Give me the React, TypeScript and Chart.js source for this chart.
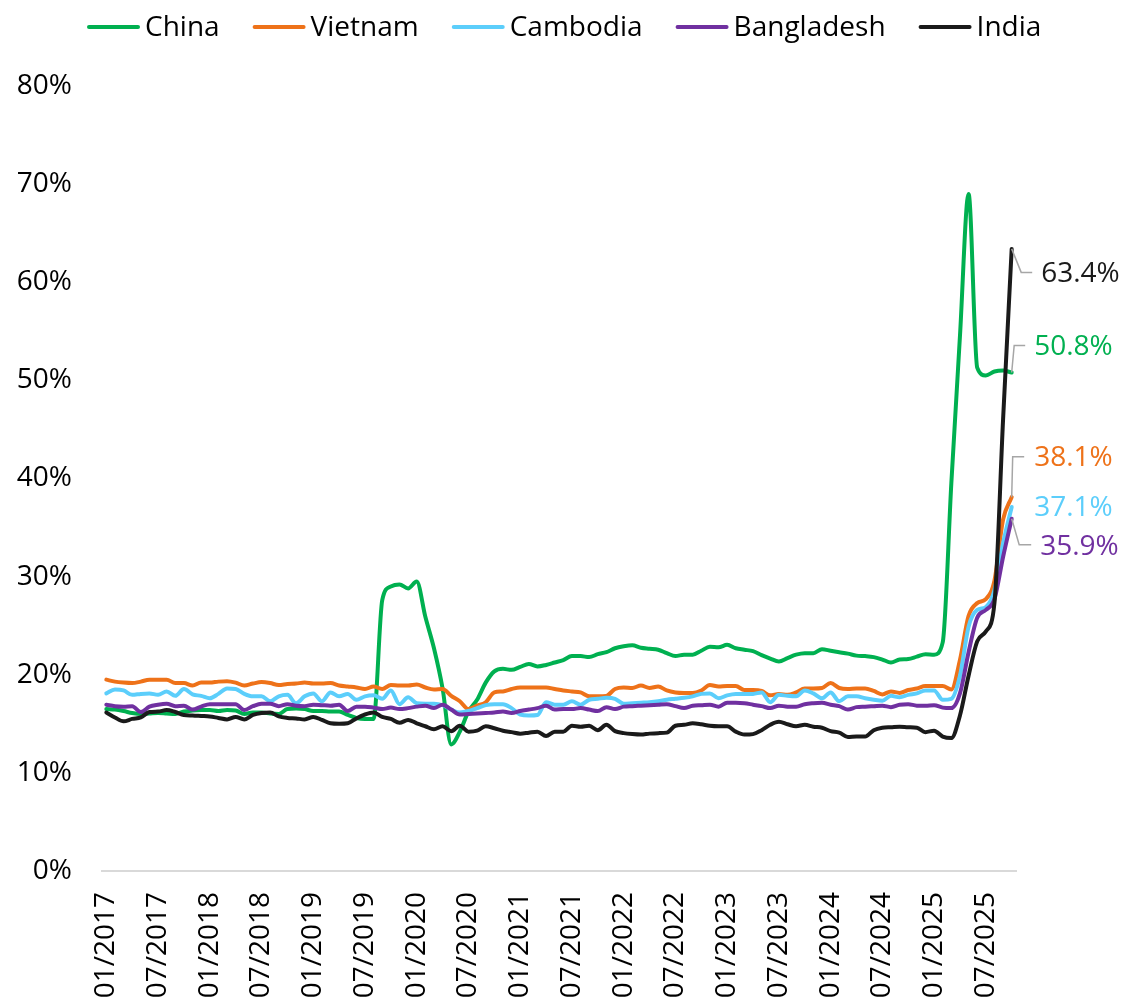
import { useEffect, useRef } from "react";
import { Chart, registerables } from "chart.js";

Chart.register(...registerables);

// Monthly categories: 01/2017 .. 10/2025
const firstYear = 2017;
const monthCount = 106;
const monthLabels: string[] = [];
for (let k = 0; k < monthCount; k++) {
  const m = (k % 12) + 1;
  const y = firstYear + Math.floor(k / 12);
  monthLabels.push(`${m < 10 ? "0" : ""}${m}/${y}`);
}
const labelEvery = 6;

const seriesNames = ["China", "Vietnam", "Cambodia", "Bangladesh", "India"];

// Share of imports (%), monthly
const china = [
  16.5, 16.45, 16.3, 16.1, 16.0, 16.05, 16.1, 16.05, 16.0, 16.25, 16.35, 16.4,
  16.4, 16.3, 16.4, 16.35, 16.0, 16.15, 16.15, 16.05, 16.0, 16.5, 16.55, 16.5,
  16.3, 16.3, 16.25, 16.25, 15.9, 15.6, 15.5, 15.5, 27.6, 29.0, 29.2,
  28.8, 29.5, 25.9, 22.7, 18.6, 12.9, 14.2, 16.25, 17.45, 19.2, 20.35, 20.6,
  20.5, 20.8, 21.1, 20.85, 21.0, 21.25, 21.5, 21.9, 21.9, 21.8, 22.1, 22.3,
  22.7, 22.9, 23.0, 22.75, 22.65, 22.55, 22.2, 21.9,
  22.05, 22.05, 22.45, 22.85, 22.8, 23.05, 22.7, 22.55, 22.4, 22.0, 21.65, 21.35,
  21.7, 22.05, 22.2, 22.2, 22.6, 22.45, 22.3, 22.15, 21.95, 21.9, 21.8, 21.55,
  21.25, 21.55, 21.6, 21.85, 22.1, 22.05, 23.3, 39.5,
  54.5, 69.0, 51.3, 50.5, 50.9, 51.0, 50.8,
];

const vietnam = [
  19.5, 19.3, 19.2, 19.15, 19.3, 19.5, 19.5, 19.5, 19.15, 19.15, 18.9, 19.2,
  19.2, 19.3, 19.35, 19.2, 18.9, 19.1, 19.25, 19.15, 18.95, 19.05, 19.1, 19.2,
  19.1, 19.1, 19.15, 18.9, 18.8, 18.7, 18.55, 18.8, 18.55, 18.95, 18.9,
  18.9, 19.0, 18.7, 18.5, 18.55, 17.85, 17.3, 16.5, 16.85, 17.2, 18.2, 18.3,
  18.55, 18.7, 18.7, 18.7, 18.7, 18.55, 18.4, 18.3, 18.2, 17.8, 17.8, 17.85,
  18.55, 18.7, 18.65, 18.9, 18.65, 18.8, 18.4, 18.2,
  18.15, 18.15, 18.4, 18.95, 18.8, 18.85, 18.85, 18.45, 18.45, 18.35, 17.9, 18.05,
  17.95, 18.2, 18.6, 18.6, 18.65, 19.15, 18.65, 18.55, 18.6, 18.6, 18.35, 18.0,
  18.3, 18.15, 18.45, 18.6, 18.85, 18.85, 18.85, 18.5,
  21.5, 26.0, 27.3, 27.7, 29.6, 35.8, 38.1,
];

const cambodia = [
  18.1, 18.5, 18.4, 17.95, 18.05, 18.1, 17.95, 18.3, 17.85, 18.55, 18.0, 17.85,
  17.6, 18.05, 18.6, 18.55, 18.05, 17.8, 17.8, 17.3, 17.8, 17.95, 17.1, 17.8,
  18.1, 17.3, 18.2, 17.8, 18.05, 17.45, 17.8, 17.9, 17.55, 18.4, 17.0,
  17.7, 17.1, 17.05, 17.05, 16.9, 16.45, 16.15, 16.3, 16.6, 16.9, 17.0, 17.0,
  16.6, 15.95, 15.85, 15.9, 17.2, 16.95, 16.95, 17.3, 16.95, 17.45, 17.55, 17.65,
  17.55, 17.05, 17.1, 17.15, 17.2, 17.3, 17.45, 17.55,
  17.65, 17.8, 18.05, 18.1, 17.6, 17.9, 18.05, 18.05, 18.05, 18.2, 17.2, 17.95,
  17.85, 17.8, 18.4, 18.1, 17.6, 18.2, 17.3, 17.8, 17.8, 17.6, 17.45, 17.35,
  17.85, 17.7, 17.95, 18.1, 18.4, 18.4, 17.45, 17.55,
  19.9, 24.9, 26.6, 26.9, 28.6, 33.4, 37.1,
];

const bangladesh = [
  16.95, 16.8, 16.75, 16.8, 16.2, 16.75, 16.95, 17.05, 16.8, 16.85, 16.45, 16.75,
  17.0, 17.0, 17.0, 17.0, 16.4, 16.8, 17.05, 17.05, 16.8, 17.0, 16.85, 16.8,
  16.95, 16.9, 16.85, 16.95, 16.3, 16.75, 16.75, 16.65, 16.5, 16.65, 16.5,
  16.6, 16.75, 16.85, 16.6, 16.95, 16.45, 15.95, 16.0, 16.05, 16.1, 16.15, 16.25,
  16.1, 16.3, 16.45, 16.6, 16.85, 16.45, 16.5, 16.5, 16.6, 16.45, 16.3, 16.7,
  16.5, 16.75, 16.8, 16.85, 16.9, 16.95, 17.0, 16.8,
  16.6, 16.85, 16.9, 16.95, 16.75, 17.15, 17.15, 17.1, 16.95, 16.8, 16.6, 16.85,
  16.75, 16.75, 17.0, 17.1, 17.15, 16.95, 16.8, 16.45, 16.7, 16.75, 16.8, 16.85,
  16.7, 16.95, 17.0, 16.85, 16.85, 16.9, 16.65, 16.6,
  18.1, 22.3, 25.8, 26.6, 27.7, 32.0, 35.9,
];

const india = [
  16.15, 15.65, 15.25, 15.5, 15.65, 16.2, 16.25, 16.4, 16.2, 15.9, 15.85, 15.8,
  15.75, 15.6, 15.45, 15.7, 15.45, 15.9, 16.1, 16.15, 15.75, 15.6, 15.55, 15.45,
  15.7, 15.4, 15.05, 15.0, 15.05, 15.55, 15.95, 16.15, 15.7, 15.5, 15.1,
  15.4, 15.05, 14.75, 14.45, 14.75, 14.25, 14.8, 14.2, 14.3, 14.75, 14.55, 14.3,
  14.15, 14.0, 14.1, 14.2, 13.75, 14.2, 14.2, 14.8, 14.7, 14.8, 14.35, 14.9,
  14.25, 14.05, 13.95, 13.9, 14.0, 14.05, 14.1, 14.8,
  14.9, 15.05, 14.95, 14.8, 14.75, 14.75, 14.2, 13.9, 13.95, 14.35, 14.9, 15.2,
  14.95, 14.75, 14.9, 14.7, 14.6, 14.25, 14.1, 13.65, 13.7, 13.7, 14.35, 14.6,
  14.65, 14.7, 14.65, 14.6, 14.15, 14.3, 13.7, 13.55,
  15.85, 19.9, 23.4, 24.4, 27.3, 46.0, 63.4,
];

const seriesValues = [china, vietnam, cambodia, bangladesh, india];

const yTicks = { min: 0, max: 80, step: 10 };

// Styling
const FONT = "'Open Sans', 'Noto Sans', 'DejaVu Sans', sans-serif";
const seriesColors = ["#00B050", "#EE7219", "#5CCEFB", "#7030A0", "#1A1A1A"];
const leaderColor = "#A6A6A6";

// End-of-line value tags: offsets from the last point (elbow, leader end, text anchor)
type Tag = { elbow: [number, number] | null; end: [number, number] | null; text: [number, number] };
const endTags: Tag[] = [
  { elbow: [2.5, -27], end: [13.5, -27], text: [22.5, -25] }, // China
  { elbow: [1, -40.5], end: [12.5, -40.5], text: [22.5, -39.5] }, // Vietnam
  { elbow: null, end: null, text: [22.5, 1] }, // Cambodia
  { elbow: [7.5, 26], end: [19.5, 26], text: [28.5, 28] }, // Bangladesh
  { elbow: [9.5, 23.5], end: [20.5, 23.5], text: [29.5, 25] }, // India
];

const legendPlugin = {
  id: "topLegend",
  afterDraw(chart: any) {
    const ctx: CanvasRenderingContext2D = chart.ctx;
    ctx.save();
    ctx.font = `28px ${FONT}`;
    ctx.textBaseline = "alphabetic";
    ctx.textAlign = "left";
    let x = 87;
    const lineY = 27;
    chart.data.datasets.forEach((ds: any) => {
      ctx.strokeStyle = ds.borderColor;
      ctx.lineWidth = 4;
      ctx.lineCap = "round";
      ctx.beginPath();
      ctx.moveTo(x + 2, lineY);
      ctx.lineTo(x + 51, lineY);
      ctx.stroke();
      ctx.fillStyle = "#000000";
      ctx.fillText(ds.label, x + 58, 36);
      x += 58 + ctx.measureText(ds.label).width + 33;
    });
    ctx.restore();
  },
};

const endTagPlugin = {
  id: "endTags",
  afterDatasetsDraw(chart: any) {
    const ctx: CanvasRenderingContext2D = chart.ctx;
    ctx.save();
    ctx.font = `28px ${FONT}`;
    ctx.textBaseline = "middle";
    ctx.textAlign = "left";
    chart.data.datasets.forEach((ds: any, i: number) => {
      const meta = chart.getDatasetMeta(i);
      const last = ds.data.length - 1;
      const pt = meta.data[last];
      if (!pt) return;
      const px = pt.x;
      const py = pt.y;
      const tag = endTags[i];
      if (tag.elbow && tag.end) {
        ctx.strokeStyle = leaderColor;
        ctx.lineWidth = 1.5;
        ctx.lineJoin = "miter";
        ctx.beginPath();
        ctx.moveTo(px, py);
        ctx.lineTo(px + tag.elbow[0], py + tag.elbow[1]);
        ctx.lineTo(px + tag.end[0], py + tag.end[1]);
        ctx.stroke();
      }
      ctx.fillStyle = ds.borderColor;
      ctx.fillText(`${Number(ds.data[last]).toFixed(1)}%`, px + tag.text[0], py + tag.text[1]);
    });
    ctx.restore();
  },
};

export default function App() {
  const canvasRef = useRef<HTMLCanvasElement | null>(null);

  useEffect(() => {
    if (!canvasRef.current) return;
    const chart = new Chart(canvasRef.current, {
      type: "line",
      data: {
        labels: monthLabels,
        datasets: seriesNames.map((name, i) => ({
          label: name,
          data: seriesValues[i],
          borderColor: seriesColors[i],
          backgroundColor: seriesColors[i],
          borderWidth: 4,
          pointRadius: 0,
          pointHoverRadius: 0,
          fill: false,
          cubicInterpolationMode: "monotone" as const,
          borderJoinStyle: "round" as const,
          borderCapStyle: "round" as const,
          order: seriesNames.length - i,
        })),
      },
      options: {
        animation: false,
        responsive: true,
        maintainAspectRatio: false,
        events: [],
        layout: { padding: { top: 86, right: 112, bottom: 0, left: 0 } },
        plugins: {
          legend: { display: false },
          tooltip: { enabled: false },
        },
        scales: {
          x: {
            type: "category",
            offset: true,
            grid: { display: false, drawTicks: false },
            border: { display: true, color: "#D9D9D9", width: 2 },
            ticks: {
              autoSkip: false,
              minRotation: 90,
              maxRotation: 90,
              padding: 21,
              color: "#000000",
              font: { family: FONT, size: 28 },
              callback: (_v: any, idx: number) => (idx % labelEvery === 0 ? monthLabels[idx] : ""),
            },
            afterFit: (s: any) => {
              s.height = 130;
            },
          },
          y: {
            min: yTicks.min,
            max: yTicks.max,
            grid: { display: false, drawTicks: false },
            border: { display: false },
            ticks: {
              stepSize: yTicks.step,
              padding: 30,
              color: "#000000",
              font: { family: FONT, size: 28 },
              callback: (v: any) => `${v}%`,
            },
            afterFit: (s: any) => {
              s.width = 102;
            },
          },
        },
      },
      plugins: [legendPlugin, endTagPlugin],
    });
    return () => chart.destroy();
  }, []);

  return (
    <div
      style={{
        position: "fixed",
        left: 0,
        top: 0,
        width: 1128,
        height: 1001,
        background: "#ffffff",
      }}
    >
      <canvas ref={canvasRef} />
    </div>
  );
}
